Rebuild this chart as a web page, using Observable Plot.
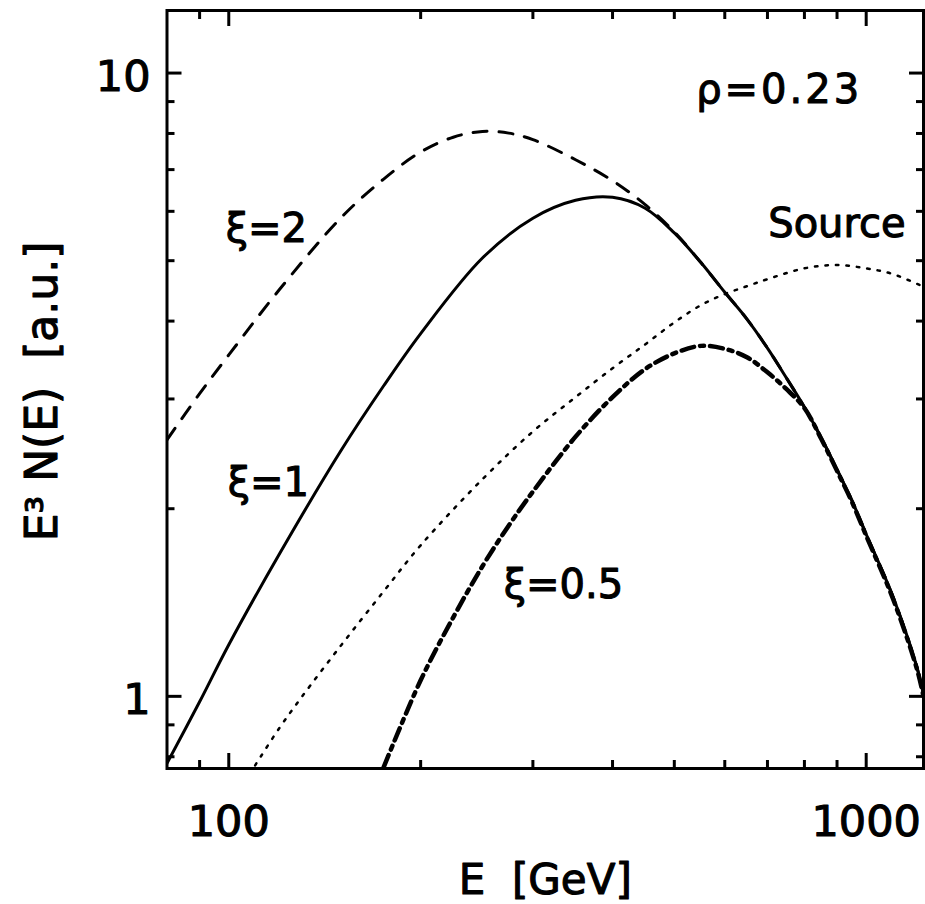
<!DOCTYPE html>
<html><head><meta charset="utf-8">
<script src="https://cdn.jsdelivr.net/npm/d3@7"></script>
<script src="https://cdn.jsdelivr.net/npm/@observablehq/plot@0.6"></script>
<style>html,body{margin:0;padding:0;background:#fff;}</style>
</head><body>
<script>
// ---- data ----
// xi = 1 (solid)
const E_xi1 = [80, 90, 100, 120, 150, 175, 200, 250, 300, 350, 400, 450, 500, 550, 600, 650, 700, 750, 800, 850, 900, 950, 1000, 1100, 1200, 1230];
const N_xi1 = [0.781, 0.98, 1.21, 1.69, 2.48, 3.15, 3.82, 5.05, 5.85, 6.25, 6.32, 6.07, 5.54, 4.97, 4.45, 4.03, 3.62, 3.24, 2.91, 2.60, 2.31, 2.06, 1.82, 1.45, 1.117, 1.007];
// xi = 2 (dashed)
const E_xi2 = [80, 90, 100, 120, 150, 175, 200, 225, 250, 275, 300, 350, 400, 450, 500, 550, 600, 650, 700, 750, 800, 850, 900, 950, 1000, 1100, 1200, 1230];
const N_xi2 = [2.58, 3.06, 3.53, 4.49, 5.86, 6.76, 7.47, 7.89, 8.06, 8.01, 7.82, 7.26, 6.72, 6.15, 5.56, 4.97, 4.45, 4.03, 3.62, 3.24, 2.91, 2.60, 2.31, 2.06, 1.82, 1.45, 1.117, 1.007];
// xi = 0.5 (dash-dot)
const E_xi05 = [175, 200, 225, 250, 275, 300, 350, 400, 450, 500, 550, 600, 650, 700, 750, 800, 850, 900, 950, 1000, 1100, 1200, 1230];
const N_xi05 = [0.77, 1.061, 1.339, 1.617, 1.88, 2.13, 2.61, 3.02, 3.35, 3.55, 3.65, 3.61, 3.50, 3.31, 3.11, 2.90, 2.59, 2.30, 2.05, 1.81, 1.44, 1.11, 1.0];
// Source (dotted)
const E_src = [110, 120, 130, 150, 175, 200, 250, 300, 350, 400, 450, 500, 550, 600, 650, 700, 800, 900, 1000, 1100, 1230];
const N_src = [0.775, 0.889, 0.996, 1.207, 1.474, 1.747, 2.23, 2.66, 3.02, 3.36, 3.67, 3.98, 4.24, 4.42, 4.55, 4.67, 4.86, 4.92, 4.86, 4.76, 4.54];

const xMajorTicks = [100, 1000];
const xMinorTicks = [90, 200, 300, 400, 500, 600, 700, 800, 900];
const yMajorTicks = [1, 10];
const yMinorTicks = [0.8, 0.9, 2, 3, 4, 5, 6, 7, 8, 9];
const xTickLabels = ["100", "1000"];
const yTickLabels = ["1", "10"];

const annotationText = ["\u03BE=2", "\u03BE=1", "\u03BE=0.5", "Source"];
const annotationE = [98.9, 99.6, 270, 702];
const annotationN = [5.36, 2.10, 1.437, 5.45];
const rhoText = "\u03C1=0.23";
const rhoE = 541;
const rhoN = 8.95;

const xLabel = "E  [GeV]";
const yLabel = "E\u00B3 N(E)  [a.u.]";

// ---- build tables ----
const rows = (E, N) => E.map((e, i) => ({E: e, N: N[i]}));
const annotations = annotationText.map((t, i) => ({text: t, E: annotationE[i], N: annotationN[i]}));

const font = "DejaVu Sans";
const tickStyle = {stroke: "black", strokeWidth: 3, fill: "none", label: null};
const ink = {fill: "black", stroke: "black", strokeWidth: 1.1};

const chart = Plot.plot({
  width: 925,
  height: 904,
  marginLeft: 166.5,
  marginRight: 2,
  marginTop: 10,
  marginBottom: 136,
  style: {fontFamily: font, background: "white", color: "black"},
  x: {type: "log", domain: [80, 1230], axis: null},
  y: {type: "log", domain: [0.766, 12.6], axis: null},
  marks: [
    Plot.line(rows(E_src, N_src), {x: "E", y: "N", stroke: "black", strokeWidth: 2.5, strokeDasharray: "2.5,8", curve: "catmull-rom", clip: true}),
    Plot.line(rows(E_xi2, N_xi2), {x: "E", y: "N", stroke: "black", strokeWidth: 3, strokeDasharray: "14,12", curve: "catmull-rom", clip: true}),
    Plot.line(rows(E_xi05, N_xi05), {x: "E", y: "N", stroke: "black", strokeWidth: 4.5, strokeDasharray: "13,6,4,6", curve: "catmull-rom", clip: true}),
    Plot.line(rows(E_xi1, N_xi1), {x: "E", y: "N", stroke: "black", strokeWidth: 3, curve: "catmull-rom", clip: true}),
    Plot.axisX({anchor: "bottom", ticks: xMajorTicks, tickSize: 15, dy: -15, ...tickStyle}),
    Plot.axisX({anchor: "bottom", ticks: xMinorTicks, tickSize: 8, dy: -8, ...tickStyle}),
    Plot.axisX({anchor: "top", ticks: xMajorTicks, tickSize: 15, dy: 15, ...tickStyle}),
    Plot.axisX({anchor: "top", ticks: xMinorTicks, tickSize: 8, dy: 8, ...tickStyle}),
    Plot.axisY({anchor: "left", ticks: yMajorTicks, tickSize: 15, dx: 15, ...tickStyle}),
    Plot.axisY({anchor: "left", ticks: yMinorTicks, tickSize: 8, dx: 8, ...tickStyle}),
    Plot.axisY({anchor: "right", ticks: yMajorTicks, tickSize: 15, dx: -15, ...tickStyle}),
    Plot.axisY({anchor: "right", ticks: yMinorTicks, tickSize: 8, dx: -8, ...tickStyle}),
    Plot.frame({stroke: "black", strokeWidth: 3}),
    Plot.text(xMajorTicks, {x: d => d, frameAnchor: "bottom", dy: 67, lineAnchor: "bottom", text: (d, i) => xTickLabels[i], fontSize: 43, ...ink}),
    Plot.text(yMajorTicks, {y: d => d, frameAnchor: "left", dx: -16.5, dy: 18, textAnchor: "end", lineAnchor: "bottom", text: (d, i) => yTickLabels[i], fontSize: 43, ...ink}),
    Plot.text(annotations, {x: "E", y: "N", text: "text", textAnchor: "start", lineAnchor: "bottom", fontSize: 40, ...ink}),
    Plot.text([rhoText], {x: rhoE, y: rhoN, text: d => d, textAnchor: "start", lineAnchor: "bottom", fontSize: 40, ...ink}),
    Plot.text([xLabel], {frameAnchor: "bottom", dy: 125, lineAnchor: "bottom", text: d => d, fontSize: 42, ...ink}),
    Plot.text([yLabel], {frameAnchor: "left", dx: -124.5, dy: 2, rotate: -90, textAnchor: "middle", lineAnchor: "middle", text: d => d, fontSize: 44, ...ink})
  ]
});
document.body.appendChild(chart);
d3.select(chart).selectAll("text").filter(function () { return this.textContent === rhoText; }).style("letter-spacing", "3px");
</script>
</body></html>
